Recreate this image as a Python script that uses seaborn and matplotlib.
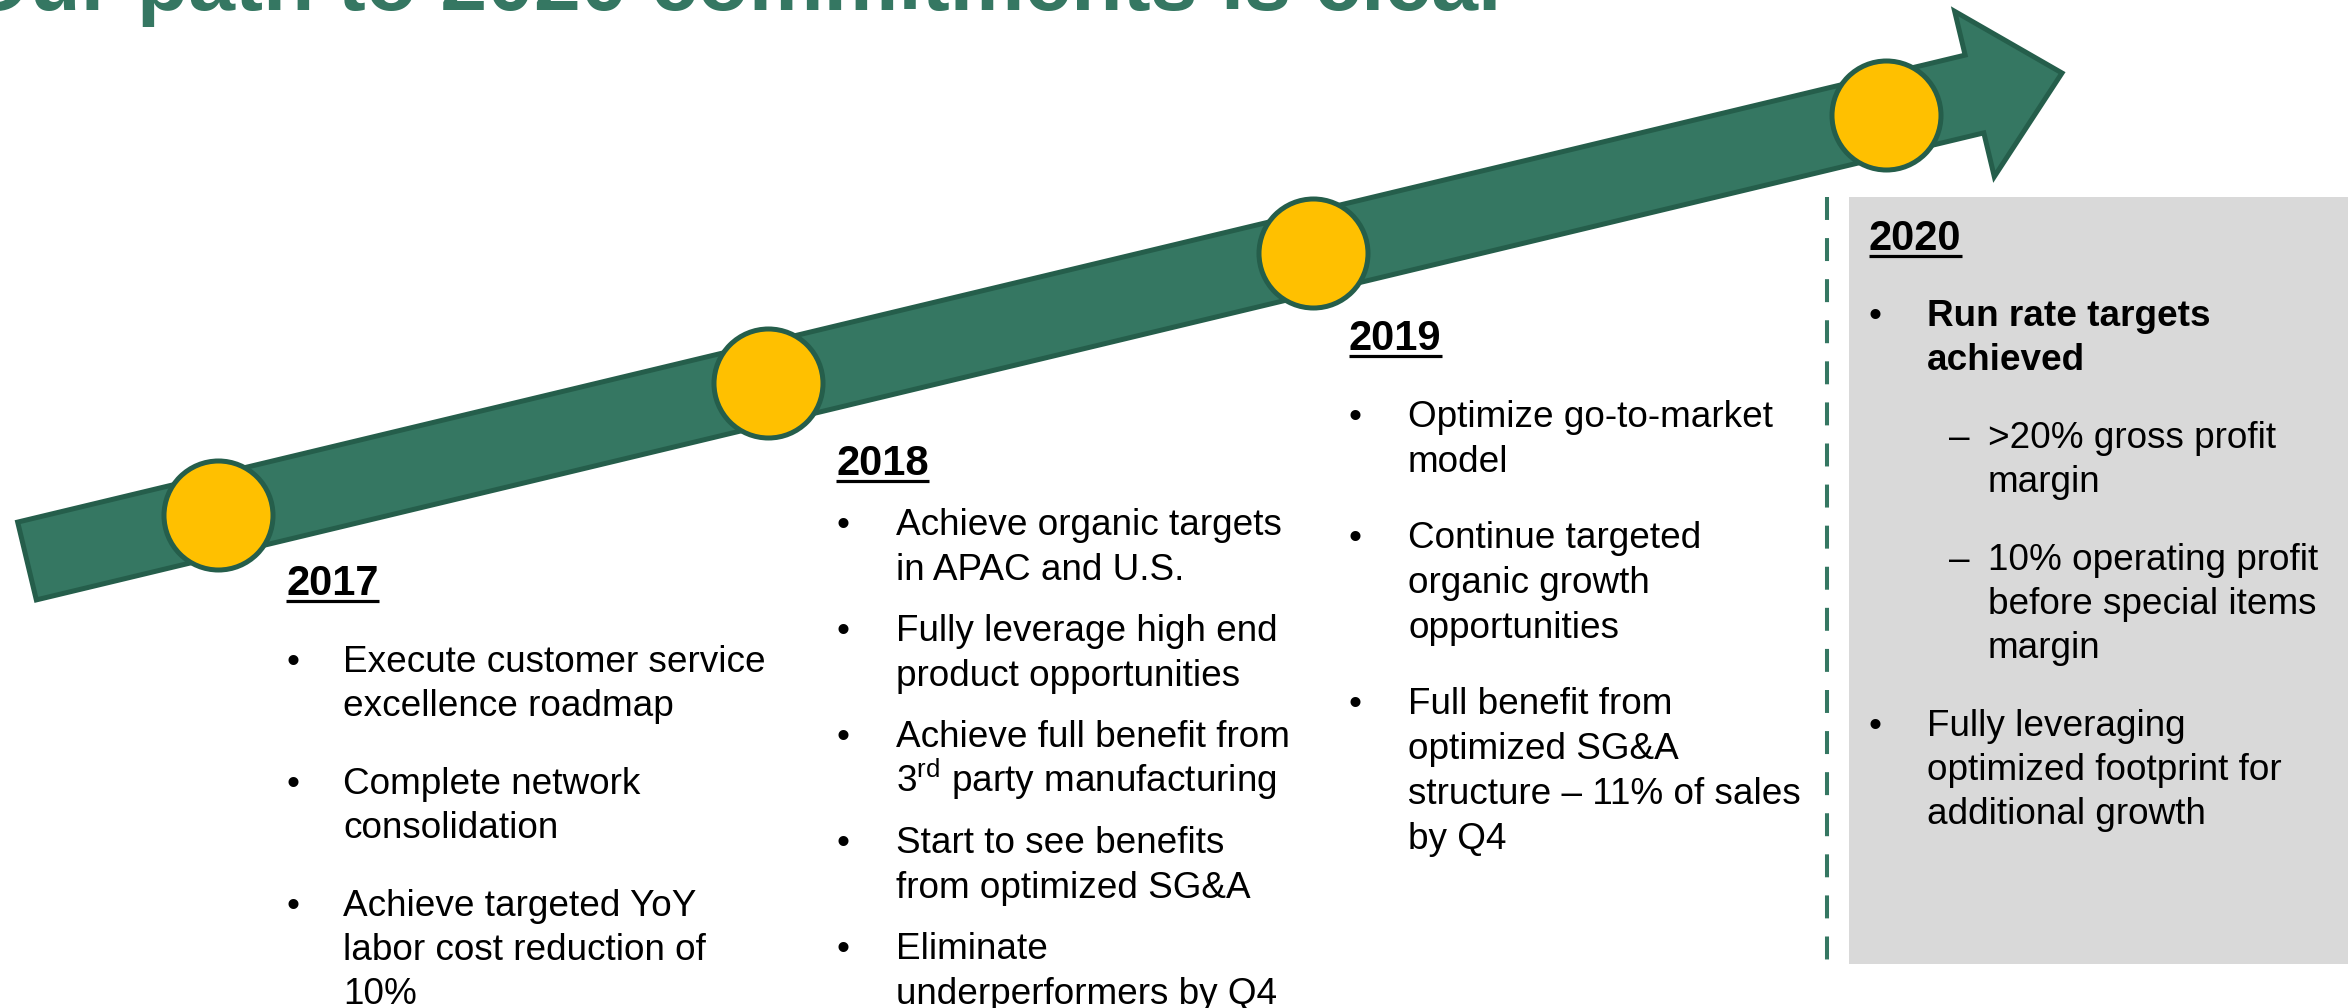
import matplotlib
matplotlib.use("Agg")
import matplotlib.pyplot as plt
import matplotlib.patches as mpatches
import seaborn as sns
import pandas as pd

# Данные слайда
title = "Our path to 2020 commitments is clear"
years = ["2017", "2018", "2019", "2020"]
milestone_x = [218, 768, 1313, 1886]

items_2017 = [
    (0, "Execute customer service\nexcellence roadmap", False),
    (0, "Complete network\nconsolidation", False),
    (0, "Achieve targeted YoY\nlabor cost reduction of\n10%", False),
]
items_2018 = [
    (0, "Achieve organic targets\nin APAC and U.S.", False),
    (0, "Fully leverage high end\nproduct opportunities", False),
    (0, "Achieve full benefit from\n3$^{\\mathrm{rd}}$ party manufacturing", False),
    (0, "Start to see benefits\nfrom optimized SG&A", False),
    (0, "Eliminate\nunderperformers by Q4", False),
]
items_2019 = [
    (0, "Optimize go-to-market\nmodel", False),
    (0, "Continue targeted\norganic growth\nopportunities", False),
    (0, "Full benefit from\noptimized SG&A\nstructure – 11% of sales\nby Q4", False),
]
items_2020 = [
    (0, "Run rate targets\nachieved", True),
    (1, ">20% gross profit\nmargin", False),
    (1, "10% operating profit\nbefore special items\nmargin", False),
    (0, "Fully leveraging\noptimized footprint for\nadditional growth", False),
]
items = [items_2017, items_2018, items_2019, items_2020]

# Раскладка колонок (пиксели)
layout = [
    dict(hx=286, hy=595, tx=343, y0=672, line=44, gap=78),
    dict(hx=836, hy=475, tx=896, y0=535, line=45, gap=61),
    dict(hx=1349, hy=350, tx=1408, y0=427, line=45, gap=76),
    dict(hx=1869, hy=250, tx=1927, dx=1949, sx=1988, y0=326, line=44, gap=78),
]

GREEN = "#357762"
DARK_GREEN = "#255e4b"
GOLD = "#ffc000"
W, H = 2348, 1008

sns.set_theme(style="white")
plt.rcParams["font.family"] = ["Liberation Sans", "DejaVu Sans"]
plt.rcParams["text.color"] = "black"
plt.rcParams["mathtext.fontset"] = "custom"
plt.rcParams["mathtext.rm"] = "Liberation Sans"

fig = plt.figure(figsize=(W / 100, H / 100), dpi=100)
ax = fig.add_axes([0, 0, 1, 1])

# Заголовок (обрезан сверху)
ax.text(-36, 10, title, fontsize=60.5, fontweight="bold", color=GREEN, va="baseline", ha="left")

# Стрелка
x0, y0, x1, y1 = 27, 561, 2062, 73
arrow = mpatches.FancyArrow(x0, y0, x1 - x0, y1 - y0, width=80, head_width=170, head_length=90,
                            length_includes_head=True, fc=GREEN, ec=DARK_GREEN, lw=3.6, zorder=2)
ax.add_patch(arrow)

# Кружки-вехи
slope = (y1 - y0) / (x1 - x0)
df = pd.DataFrame({"year": years, "x": milestone_x})
df["y"] = y0 + (df["x"] - x0) * slope
sns.scatterplot(data=df, x="x", y="y", s=6160, color=GOLD, edgecolor=DARK_GREEN, linewidth=3.6,
                ax=ax, zorder=3, legend=False)
ax.set_xlim(0, W)
ax.set_ylim(H, 0)
ax.axis("off")

# Серый блок 2020 и пунктир
ax.add_patch(mpatches.Rectangle((1849, 197), W - 1849, 964 - 197, color="#d9d9d9", lw=0, zorder=1))
ax.plot([1827, 1827], [197, 976], color=GREEN, lw=2.9, linestyle=(0, (5.7, 4.5)), zorder=1)

# Тексты по колонкам
headers = []
for year, its, lay in zip(years, items, layout):
    t = ax.text(lay["hx"], lay["hy"], year, fontsize=30, fontweight="bold", va="baseline", zorder=4)
    headers.append((t, lay))
    y = lay["y0"]
    for level, text, bold in its:
        lines = text.split("\n")
        if level == 0:
            ax.text(lay["hx"], y, "•", fontsize=26.6, va="baseline", zorder=4)
            tx = lay["tx"]
        else:
            ax.text(lay["dx"], y, "–", fontsize=26.6, va="baseline", zorder=4)
            tx = lay["sx"]
        for i, line in enumerate(lines):
            ax.text(tx, y + i * lay["line"], line, fontsize=26.6, va="baseline",
                    fontweight="bold" if bold else "normal", zorder=4)
        y += (len(lines) - 1) * lay["line"] + lay["gap"]

# Подчёркивание годов
fig.canvas.draw()
renderer = fig.canvas.get_renderer()
inv = ax.transData.inverted()
for t, lay in headers:
    bb = t.get_window_extent(renderer)
    (bx0, _), (bx1, _) = inv.transform([[bb.x0, bb.y0], [bb.x1, bb.y1]])
    ax.plot([bx0, bx1], [lay["hy"] + 6, lay["hy"] + 6], color="black", lw=2.3,
            solid_capstyle="butt", zorder=4)

fig.savefig("out.png", dpi=100)
